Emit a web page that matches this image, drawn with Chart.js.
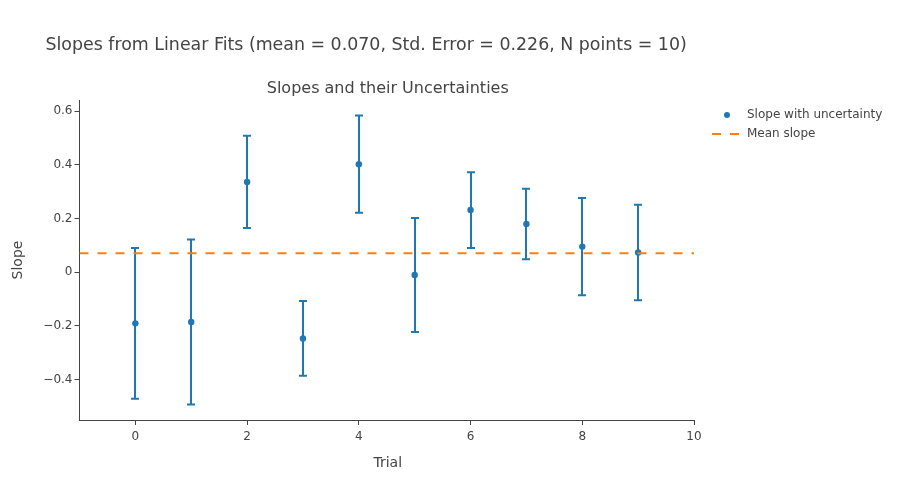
<!DOCTYPE html>
<html><head><meta charset="utf-8">
<script src="https://cdn.jsdelivr.net/npm/chart.js@4.4.1/dist/chart.umd.min.js"></script>
<style>html,body{margin:0;padding:0;background:#fff;}#wrap{width:900px;height:500px;position:relative;}</style>
</head><body><div id="wrap"><canvas id="c" width="900" height="500"></canvas></div>
<script>
const mainTitle = 'Slopes from Linear Fits (mean = 0.070, Std. Error = 0.226, N points = 10)';
const subTitle = 'Slopes and their Uncertainties';
const xTitle = 'Trial';
const yTitle = 'Slope';
const seriesLabels = ['Slope with uncertainty', 'Mean slope'];
const trials = [0, 1, 2, 3, 4, 5, 6, 7, 8, 9];
const slopes = [-0.191, -0.186, 0.336, -0.247, 0.402, -0.011, 0.231, 0.179, 0.095, 0.073];
const errors = [0.281, 0.307, 0.172, 0.139, 0.181, 0.212, 0.141, 0.131, 0.181, 0.178];
const meanSlope = 0.070;
const meanX = [-1, 10];
const xTicks = [0, 2, 4, 6, 8, 10];
const yTicks = [-0.4, -0.2, 0, 0.2, 0.4, 0.6];

const FONT = '"DejaVu Sans", Verdana, Arial, sans-serif';
const BLUE = '#1f77b4', ORANGE = '#ff7f0e', TXT = '#444';

function fmt(v) {
  const s = (Math.round(v * 10) / 10).toString();
  return s.replace('-', '\u2212');
}

const errorBars = {
  id: 'errorBars',
  beforeDatasetsDraw(chart) {
    const ctx = chart.ctx, xs = chart.scales.x, ys = chart.scales.y;
    ctx.save();
    ctx.strokeStyle = BLUE; ctx.lineWidth = 2;
    trials.forEach((t, i) => {
      const px = Math.round(xs.getPixelForValue(t));
      const top = ys.getPixelForValue(slopes[i] + errors[i]);
      const bot = ys.getPixelForValue(slopes[i] - errors[i]);
      ctx.beginPath();
      ctx.moveTo(px, top); ctx.lineTo(px, bot);
      ctx.moveTo(px - 4, top); ctx.lineTo(px + 4, top);
      ctx.moveTo(px - 4, bot); ctx.lineTo(px + 4, bot);
      ctx.stroke();
    });
    ctx.restore();
  }
};

const texts = {
  id: 'texts',
  afterDraw(chart) {
    const ctx = chart.ctx, ca = chart.chartArea;
    ctx.save();
    ctx.fillStyle = TXT; ctx.textBaseline = 'middle';
    ctx.font = '17.4px ' + FONT; ctx.textAlign = 'left';
    ctx.fillText(mainTitle, 45.5, 45);
    ctx.font = '16px ' + FONT; ctx.textAlign = 'center';
    ctx.fillText(subTitle, (ca.left + ca.right) / 2 + 1, 89);
    ctx.font = '14px ' + FONT;
    ctx.fillText(xTitle, (ca.left + ca.right) / 2 + 1, 463);
    ctx.save();
    ctx.translate(18, (ca.top + ca.bottom) / 2);
    ctx.rotate(-Math.PI / 2);
    ctx.fillText(yTitle, 0, 0);
    ctx.restore();
    // legend
    ctx.font = '12px ' + FONT; ctx.textAlign = 'left';
    ctx.fillStyle = BLUE;
    ctx.beginPath(); ctx.arc(727, 115, 3, 0, Math.PI * 2); ctx.fill();
    ctx.strokeStyle = ORANGE; ctx.lineWidth = 2; ctx.setLineDash([9, 9]);
    ctx.beginPath(); ctx.moveTo(712, 134); ctx.lineTo(742, 134); ctx.stroke();
    ctx.setLineDash([]);
    ctx.fillStyle = TXT;
    ctx.fillText(seriesLabels[0], 747, 115);
    ctx.fillText(seriesLabels[1], 747, 134);
    ctx.restore();
  }
};

function build() {
  new Chart(document.getElementById('c'), {
    data: {
      datasets: [
        {
          type: 'line', label: seriesLabels[1],
          data: meanX.map(x => ({ x: x, y: meanSlope })),
          borderColor: ORANGE, borderWidth: 2, borderDash: [9, 9],
          pointRadius: 0, fill: false, order: 0
        },
        {
          type: 'scatter', label: seriesLabels[0],
          data: trials.map((t, i) => ({ x: t, y: slopes[i] })),
          backgroundColor: BLUE, borderWidth: 0, pointRadius: 3.2, order: 1
        }
      ]
    },
    options: {
      responsive: false, animation: false, devicePixelRatio: 1,
      layout: { padding: { top: 100, right: 206, left: 0, bottom: 0 } },
      plugins: { legend: { display: false }, title: { display: false }, tooltip: { enabled: false } },
      scales: {
        x: {
          type: 'linear', min: -1, max: 10,
          afterFit: s => { s.height = 80; },
          afterBuildTicks: s => { s.ticks = xTicks.map(v => ({ value: v })); },
          grid: { display: true, drawOnChartArea: false, drawTicks: true, tickLength: 5, color: TXT },
          border: { display: true, color: TXT, width: 1 },
          ticks: { color: TXT, font: { family: FONT, size: 12 }, padding: 5, maxRotation: 0, callback: v => fmt(v) }
        },
        y: {
          type: 'linear', min: -0.551, max: 0.641,
          afterFit: s => { s.width = 79.5; },
          afterBuildTicks: s => { s.ticks = yTicks.map(v => ({ value: v })); },
          grid: { display: true, drawOnChartArea: false, drawTicks: true, tickLength: 5, color: TXT },
          border: { display: true, color: TXT, width: 1 },
          ticks: { color: TXT, font: { family: FONT, size: 12 }, padding: 2, callback: v => fmt(v) }
        }
      }
    },
    plugins: [errorBars, texts]
  });
}
if (document.fonts && document.fonts.load) {
  Promise.all([document.fonts.load('12px "DejaVu Sans"'), document.fonts.load('17px "DejaVu Sans"')]).then(build, build);
} else build();
</script></body></html>
